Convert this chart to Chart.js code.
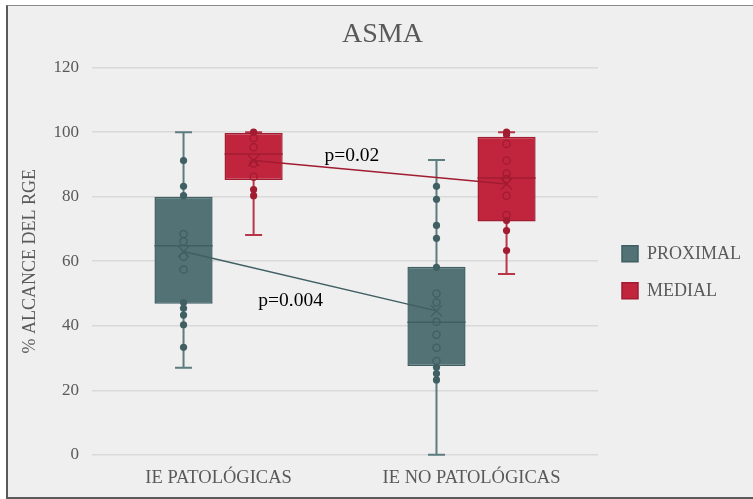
<!DOCTYPE html>
<html lang="es">
<head>
<meta charset="UTF-8">
<title>ASMA</title>
<script src="https://cdn.jsdelivr.net/npm/chart.js"></script>
<style>
  html, body { margin: 0; padding: 0; background: #ffffff; }
  .frame {
    position: absolute; left: 6px; top: 5px; width: 760px; height: 491px;
    background: #efefef;
    border-left: 2px solid #5a5a5a;
    border-top: 1px solid #8a8a8a;
    border-bottom: 2px solid #5a5a5a;
  }
  #chart { position: absolute; left: 0; top: 0; }
</style>
</head>
<body>
<div class="frame"></div>
<canvas id="chart" width="753" height="499"></canvas>

<script>
// categories and box statistics
const categories = ['IE PATOLÓGICAS', 'IE NO PATOLÓGICAS'];

const proximalMin = [27, 0];
const proximalQ1 = [46.8, 27.5];
const proximalMedian = [64.8, 41.1];
const proximalQ3 = [80, 58.3];
const proximalMax = [100, 91.4];
const proximalMean = [63, 44.6];
const proximalPoints = [
  [91.2, 83.2, 80.3, 68.4, 66.1, 61.4, 57.4, 47.2, 45.4, 43.3, 40.3, 33.3],
  [83.2, 79.2, 71.1, 67.1, 58.1, 50, 47.2, 41.2, 37.2, 33.2, 29.1, 27.1, 25.2, 23.2]
];

const medialMin = [68.1, 56];
const medialQ1 = [85.2, 72.3];
const medialMedian = [93.2, 85.8];
const medialQ3 = [99.7, 98.6];
const medialMax = [100, 100];
const medialMean = [91.2, 83.9];
const medialPoints = [
  [100, 98.2, 95.3, 90.3, 86.2, 82.2, 80.3],
  [100, 99.2, 96.3, 91.2, 87.2, 85.5, 80.3, 74.3, 72.6, 69.5, 63.3]
];

const yTicks = [0, 20, 40, 60, 80, 100, 120];

// p-value notes: text, category position (fractional index), value
const pLabels = ['p=0.004', 'p=0.02'];
const pLabelIndex = [0.285, 0.527];
const pLabelValue = [47.8, 92.7];

const serif = "'Liberation Serif', 'DejaVu Serif', serif";
const grey = '#595959';

const series = [
  { label: 'PROXIMAL', min: proximalMin, q1: proximalQ1, median: proximalMedian, q3: proximalQ3,
    max: proximalMax, mean: proximalMean, points: proximalPoints,
    fill: '#527275', line: '#3f5f63', whisker: '#5d7c80' },
  { label: 'MEDIAL', min: medialMin, q1: medialQ1, median: medialMedian, q3: medialQ3,
    max: medialMax, mean: medialMean, points: medialPoints,
    fill: '#c1243d', line: '#a11c31', whisker: '#b8354a' }
];

// whiskers, medians, means, dots and mean lines drawn around the floating bars
const boxExtras = {
  id: 'boxExtras',
  afterLayout(chart) {
    // push the legend a few px to the right, away from the plot
    chart.legend.left += 5;
    chart.legend.right += 5;
  },
  beforeDatasetsDraw(chart) {
    const ctx = chart.ctx, y = chart.scales.y;
    series.forEach((s, i) => {
      chart.getDatasetMeta(i).data.forEach((bar, j) => {
        ctx.save();
        ctx.strokeStyle = s.whisker;
        ctx.lineWidth = 2;
        ctx.beginPath();
        ctx.moveTo(bar.x, y.getPixelForValue(s.max[j]));
        ctx.lineTo(bar.x, y.getPixelForValue(s.q3[j]));
        ctx.moveTo(bar.x, y.getPixelForValue(s.q1[j]));
        ctx.lineTo(bar.x, y.getPixelForValue(s.min[j]));
        const cap = 8.5;
        [s.max[j], s.min[j]].forEach(v => {
          const py = y.getPixelForValue(v);
          ctx.moveTo(bar.x - cap, py);
          ctx.lineTo(bar.x + cap, py);
        });
        ctx.stroke();
        ctx.restore();
      });
    });
  },
  afterDatasetsDraw(chart) {
    const ctx = chart.ctx, x = chart.scales.x, y = chart.scales.y;
    series.forEach((s, i) => {
      const bars = chart.getDatasetMeta(i).data;
      bars.forEach((bar, j) => {
        const half = bar.width / 2;
        ctx.save();
        // median
        ctx.strokeStyle = s.line;
        ctx.lineWidth = 1.5;
        const my = y.getPixelForValue(s.median[j]);
        ctx.beginPath();
        ctx.moveTo(bar.x - half, my);
        ctx.lineTo(bar.x + half, my);
        ctx.stroke();
        // dots
        s.points[j].forEach(v => {
          const py = y.getPixelForValue(v);
          const inside = v > s.q1[j] + 0.6 && v < s.q3[j] - 0.6;
          ctx.beginPath();
          ctx.arc(bar.x, py, 3.6, 0, Math.PI * 2);
          if (inside) {
            ctx.lineWidth = 1.3;
            ctx.strokeStyle = s.line;
            ctx.stroke();
          } else {
            ctx.fillStyle = s.line;
            ctx.fill();
          }
        });
        // mean marker
        const ey = y.getPixelForValue(s.mean[j]);
        const m = 5.5;
        ctx.lineWidth = 1.3;
        ctx.strokeStyle = s.line;
        ctx.beginPath();
        ctx.moveTo(bar.x - m, ey - m);
        ctx.lineTo(bar.x + m, ey + m);
        ctx.moveTo(bar.x + m, ey - m);
        ctx.lineTo(bar.x - m, ey + m);
        ctx.stroke();
        ctx.restore();
      });
      // line joining the means
      ctx.save();
      ctx.strokeStyle = s.line;
      ctx.lineWidth = 1.5;
      ctx.beginPath();
      bars.forEach((bar, j) => {
        const ey = y.getPixelForValue(s.mean[j]);
        if (j === 0) ctx.moveTo(bar.x, ey); else ctx.lineTo(bar.x, ey);
      });
      ctx.stroke();
      ctx.restore();
    });
    // p-values
    ctx.save();
    ctx.fillStyle = '#000000';
    ctx.font = '19.5px ' + serif;
    ctx.textAlign = 'center';
    ctx.textBaseline = 'middle';
    pLabels.forEach((t, k) => {
      ctx.fillText(t, x.getPixelForValue(pLabelIndex[k]), y.getPixelForValue(pLabelValue[k]));
    });
    ctx.restore();
  }
};

new Chart(document.getElementById('chart'), {
  type: 'bar',
  data: {
    labels: categories,
    datasets: series.map(s => ({
      label: s.label,
      data: s.q1.map((q, j) => [q, s.q3[j]]),
      backgroundColor: s.fill,
      borderColor: s.line,
      borderWidth: 1.5,
      borderSkipped: false,
      categoryPercentage: 0.554,
      barPercentage: 0.83
    }))
  },
  options: {
    responsive: false,
    animation: false,
    devicePixelRatio: 1,
    layout: { padding: { left: 19, right: 7, top: 10, bottom: 6 } },
    plugins: {
      title: {
        display: true,
        text: 'ASMA',
        color: grey,
        font: { family: serif, size: 28, weight: 'normal' },
        padding: { top: 8, bottom: 16 }
      },
      legend: {
        position: 'right',
        // empty legend title only pushes the items down a little
        title: { display: true, text: ' ', padding: 10, font: { family: serif, size: 18 } },
        labels: {
          color: grey,
          font: { family: serif, size: 18 },
          boxWidth: 16,
          boxHeight: 16,
          padding: 19
        }
      },
      tooltip: { enabled: false }
    },
    scales: {
      x: {
        grid: { display: false },
        border: { display: false },
        ticks: { color: grey, font: { family: serif, size: 18.5 }, padding: 4 }
      },
      y: {
        min: 0,
        max: 120,
        afterBuildTicks: axis => { axis.ticks = yTicks.map(v => ({ value: v })); },
        grid: { color: '#d9d9d9', lineWidth: 1.5, drawTicks: false },
        border: { display: false },
        ticks: { color: grey, font: { family: serif, size: 17 }, padding: 13 },
        title: {
          display: true,
          text: '% ALCANCE DEL RGE',
          color: grey,
          font: { family: serif, size: 18 },
          padding: { top: 0, bottom: 0 }
        }
      }
    }
  },
  plugins: [boxExtras]
});
</script>
</body>
</html>
